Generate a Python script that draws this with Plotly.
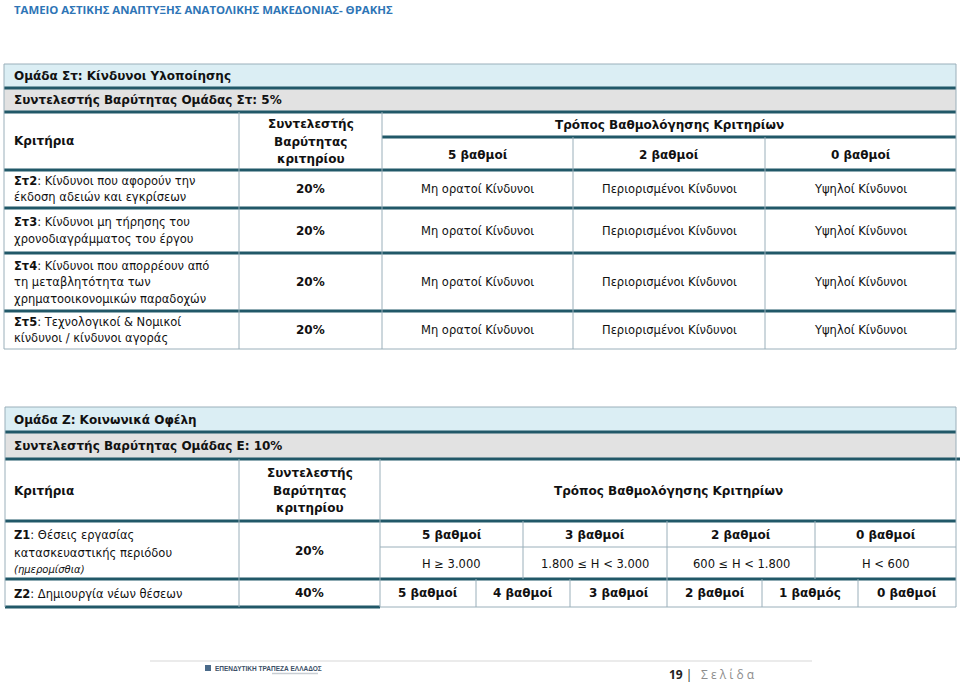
import plotly.graph_objects as go

# ---------------- content ----------------
page_title = "ΤΑΜΕΙΟ ΑΣΤΙΚΗΣ ΑΝΑΠΤΥΞΗΣ ΑΝΑΤΟΛΙΚΗΣ ΜΑΚΕΔΟΝΙΑΣ- ΘΡΑΚΗΣ"

st_group_title = "Ομάδα Στ: Κίνδυνοι Υλοποίησης"
st_group_weight = "Συντελεστής Βαρύτητας Ομάδας Στ: 5%"
header_criteria = "Κριτήρια"
header_weight = ["Συντελεστής", "Βαρύτητας", "κριτηρίου"]
header_scoring = "Τρόπος Βαθμολόγησης Κριτηρίων"
st_score_labels = ["5 βαθμοί", "2 βαθμοί", "0 βαθμοί"]
st_codes = ["Στ2", "Στ3", "Στ4", "Στ5"]
st_criteria = [
    ["Κίνδυνοι που αφορούν την", "έκδοση αδειών και εγκρίσεων"],
    ["Κίνδυνοι μη τήρησης του", "χρονοδιαγράμματος του έργου"],
    ["Κίνδυνοι που απορρέουν από", "τη μεταβλητότητα των", "χρηματοοικονομικών παραδοχών"],
    ["Τεχνολογικοί & Νομικοί", "κίνδυνοι / κίνδυνοι αγοράς"],
]
st_weights = ["20%", "20%", "20%", "20%"]
st_score_desc = ["Μη ορατοί Κίνδυνοι", "Περιορισμένοι Κίνδυνοι", "Υψηλοί Κίνδυνοι"]

z_group_title = "Ομάδα Ζ: Κοινωνικά Οφέλη"
z_group_weight = "Συντελεστής Βαρύτητας Ομάδας Ε: 10%"
z1_code = "Ζ1"
z1_lines = ["Θέσεις εργασίας", "κατασκευαστικής περιόδου"]
z1_note = "(ημερομίσθια)"
z1_weight = "20%"
z1_score_labels = ["5 βαθμοί", "3 βαθμοί", "2 βαθμοί", "0 βαθμοί"]
z1_ranges = ["Η ≥ 3.000", "1.800 ≤ Η < 3.000", "600 ≤ Η < 1.800", "Η < 600"]
z2_code = "Ζ2"
z2_text = "Δημιουργία νέων θέσεων"
z2_weight = "40%"
z2_score_labels = ["5 βαθμοί", "4 βαθμοί", "3 βαθμοί", "2 βαθμοί", "1 βαθμός", "0 βαθμοί"]

footer_bank = "ΕΠΕΝΔΥΤΙΚΗ ΤΡΑΠΕΖΑ ΕΛΛΑΔΟΣ"
footer_page = "19"
footer_word = "Σ ε λ ί δ α"

# ---------------- layout geometry ----------------
W, H = 960, 682
THICK = "#215868"
THIN = "#9AAFBA"
BLUE = "#DBEEF4"
GREY = "#E2E2E2"
FONT = "DejaVu Sans"
FS = 12      # bold text
FSR = 11.5   # regular text

shapes = []
ann = []


def rect(x0, y0, x1, y1, fill):
    shapes.append(dict(type="rect", xref="x", yref="y", x0=x0, x1=x1, y0=y0, y1=y1,
                       fillcolor=fill, line=dict(width=0), layer="below"))


def hline(y, x0, x1, thick=False):
    shapes.append(dict(type="line", xref="x", yref="y", x0=x0, x1=x1, y0=y, y1=y,
                       line=dict(color=THICK if thick else THIN, width=3 if thick else 1)))


def vline(x, y0, y1):
    shapes.append(dict(type="line", xref="x", yref="y", x0=x, x1=x, y0=y0, y1=y1,
                       line=dict(color=THIN, width=1)))


def text(x, y, s, anchor="left", size=None, bold=False, color="#111111", italic=False, family=FONT):
    if size is None:
        size = FS if bold else FSR
    if bold:
        s = "<b>" + s + "</b>"
    if italic:
        s = "<i>" + s + "</i>"
    ann.append(dict(x=x, y=y, xref="x", yref="y", text=s, showarrow=False,
                    xanchor=anchor, yanchor="middle",
                    font=dict(family=family, size=size, color=color)))


# ---------- title ----------
text(12, 9, page_title, size=11.4, bold=True, color="#2E75B6", family="Open Sans")

# ---------- table 1 ----------
L, R = 4, 956
c1, c2 = 239, 382
sc1 = [382, 573, 765, 956]
y_top, y_g, y_h, y_sub, y_hb = 64, 88, 112, 137, 170
row_b = [208, 253, 311, 349]

rect(L, y_top, R, y_g, BLUE)
rect(L, y_g, R, y_h, GREY)
hline(y_top, L, R)
hline(y_g, L, R, True)
hline(y_h, L, R, True)
hline(y_sub, c2, R, True)
hline(y_hb, L, R, True)
for yb in row_b[:-1]:
    hline(yb, L, R, True)
hline(row_b[-1], L, R)
vline(L, y_top, row_b[-1])
vline(R, y_top, row_b[-1])
vline(c1, y_h, row_b[-1])
vline(c2, y_h, row_b[-1])
for xs in sc1[1:-1]:
    vline(xs, y_sub, row_b[-1])

text(12, 76, st_group_title, bold=True)
text(12, 100, st_group_weight, bold=True)
text(12, 141, header_criteria, bold=True)
for i, ln in enumerate(header_weight):
    text((c1 + c2) / 2, 124 + 17.5 * i, ln, anchor="center", bold=True)
text((c2 + R) / 2, 125, header_scoring, anchor="center", bold=True)
for i, lab in enumerate(st_score_labels):
    text((sc1[i] + sc1[i + 1]) / 2, 155, lab, anchor="center", bold=True)

row_tops = [y_hb] + row_b[:-1]
for r in range(len(st_codes)):
    y0, y1 = row_tops[r], row_b[r]
    yc = (y0 + y1) / 2
    lines = st_criteria[r]
    n = len(lines)
    for k, ln in enumerate(lines):
        yy = yc + (k - (n - 1) / 2) * 16.5
        s = ("<b>" + st_codes[r] + "</b>: " + ln) if k == 0 else ln
        text(12, yy, s)
    text((c1 + c2) / 2, yc, st_weights[r], anchor="center", bold=True)
    for i, d in enumerate(st_score_desc):
        text((sc1[i] + sc1[i + 1]) / 2, yc, d, anchor="center")

# ---------- table 2 ----------
L2 = 5
z_top, z_g, z_h, z_hb, z_mid, z_r1b, z_r2b = 407, 432, 459, 521, 547, 579, 607
cz1 = [380, 523, 667, 815, 956]
cz2 = [380, 476, 570, 667, 762, 858, 956]

rect(L2, z_top, R, z_g, BLUE)
rect(L2, z_g, R, z_h, GREY)
hline(z_top, L2, R)
hline(z_g, L2, R, True)
hline(z_h, L2, 960, True)
hline(z_hb, L2, R, True)
hline(z_mid, 380, R)
hline(z_r1b, L2, R, True)
hline(z_r2b, L2, 380, True)
hline(z_r2b, 380, R)
vline(L2, z_top, z_r2b)
vline(R, z_top, z_r2b)
vline(c1, z_h, z_r2b)
vline(380, z_h, z_r2b)
for xs in cz1[1:-1]:
    vline(xs, z_hb, z_r1b)
for xs in cz2[1:-1]:
    vline(xs, z_r1b, z_r2b)

text(12, 420, z_group_title, bold=True)
text(12, 446, z_group_weight, bold=True)
text(12, 491, header_criteria, bold=True)
for i, ln in enumerate(header_weight):
    text((c1 + 380) / 2, 473 + 17.5 * i, ln, anchor="center", bold=True)
text((380 + R) / 2, 491, header_scoring, anchor="center", bold=True)

text(12, 535, "<b>" + z1_code + "</b>: " + z1_lines[0])
text(12, 553, z1_lines[1])
text(12, 569, z1_note, size=10, italic=True)
text((c1 + 380) / 2, 551, z1_weight, anchor="center", bold=True)
for i in range(len(z1_score_labels)):
    xc = (cz1[i] + cz1[i + 1]) / 2
    text(xc, 535, z1_score_labels[i], anchor="center", bold=True)
    text(xc, 564, z1_ranges[i], anchor="center")

text(12, 594, "<b>" + z2_code + "</b>: " + z2_text)
text((c1 + 380) / 2, 593, z2_weight, anchor="center", bold=True)
for i, lab in enumerate(z2_score_labels):
    text((cz2[i] + cz2[i + 1]) / 2, 593, lab, anchor="center", bold=True)

# ---------- footer ----------
shapes.append(dict(type="line", xref="x", yref="y", x0=150, x1=812, y0=661, y1=661,
                   line=dict(color="#E4E4E4", width=1.5)))
shapes.append(dict(type="rect", xref="x", yref="y", x0=205, x1=211, y0=665, y1=671,
                   fillcolor="#4A6A8A", line=dict(width=0)))
shapes.append(dict(type="line", xref="x", yref="y", x0=272, x1=318, y0=673.5, y1=673.5,
                   line=dict(color="#C8CDD3", width=1.5)))
text(213, 668, footer_bank, size=6.5, bold=True, color="#3B4F66", family="Liberation Sans")
text(694, 674, "<b>" + footer_page + "</b> |", anchor="right", size=12, color="#222222", family="Open Sans")
text(699, 674, footer_word, size=12, color="#8C8C8C", family="Open Sans")

fig = go.Figure()
fig.update_layout(
    width=W, height=H,
    margin=dict(l=0, r=0, t=0, b=0),
    paper_bgcolor="white", plot_bgcolor="white",
    xaxis=dict(range=[0, W], visible=False, fixedrange=True),
    yaxis=dict(range=[H, 0], visible=False, fixedrange=True),
    shapes=shapes, annotations=ann, showlegend=False,
)
fig.write_html("out.html", config={"displayModeBar": False},
               post_script="document.body.style.margin='0px';document.body.style.overflow='hidden';")
